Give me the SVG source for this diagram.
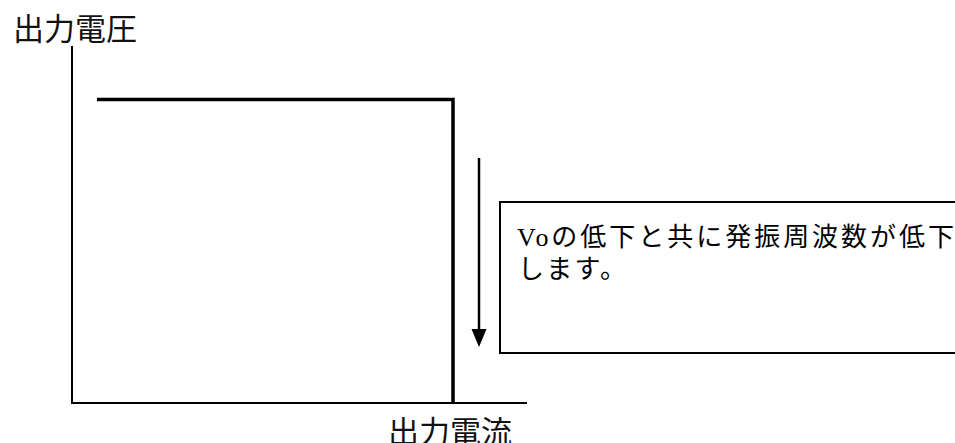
<svg xmlns="http://www.w3.org/2000/svg" width="955" height="443" viewBox="0 0 955 443">
<style>
.axis{stroke:#000;stroke-width:2;fill:none}
.thick{stroke:#000;stroke-width:3.5;fill:none}
.lbl{font-family:"Noto Sans CJK JP",sans-serif;font-size:31px;fill:#111}
.note{font-family:"Liberation Serif","Noto Sans CJK JP",serif;font-size:26px;fill:#000}
</style>
<g id="axes">
<path class="axis" d="M72,46 V403 H527"/>
<text class="lbl" x="13" y="40">出力電圧</text>
<text class="lbl" x="388" y="443">出力電流</text>
</g>
<g id="curve">
<path class="thick" d="M97,99.5 H453 V403"/>
</g>
<g id="connectors">
<path d="M479,158 V330" stroke="#000" stroke-width="2.5" fill="none"/>
<path d="M471.5,329 H486.5 L479,347 Z" fill="#000"/>
</g>
<g id="note">
<rect x="500" y="202" width="470" height="151" fill="#fff" stroke="#000" stroke-width="2"/>
<text class="note" x="517" y="246" textLength="437" lengthAdjust="spacing">Voの低下と共に発振周波数が低下</text>
<text class="note" x="518" y="278" textLength="108" lengthAdjust="spacing">します。</text>
</g>
</svg>
